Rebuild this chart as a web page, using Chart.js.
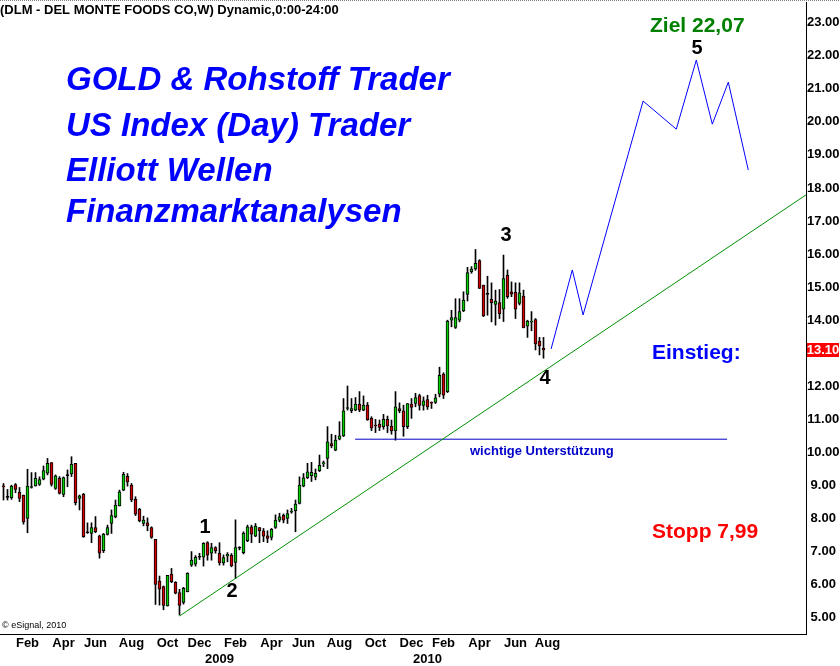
<!DOCTYPE html>
<html><head><meta charset="utf-8">
<script src="https://cdn.jsdelivr.net/npm/chart.js@4"></script>
<style>html,body{margin:0;padding:0;background:#fff}#c{display:block}</style>
</head><body>
<canvas id="c" width="840" height="666"></canvas>
<script>
// Weekly candles, DLM Dec 2007 - Aug 2010 (week index 1..136)
const opens  = [8.98,8.64,8.63,9.03,8.79,8.71,8.00,8.94,8.99,9.03,9.19,9.37,9.69,8.91,9.22,8.73,9.30,9.35,9.67,8.61,
                8.73,7.57,7.55,7.73,7.48,7.03,7.52,7.85,8.05,8.38,8.86,9.28,9.01,8.58,8.28,7.85,7.87,7.73,7.37,6.11,
                5.94,5.36,6.32,6.07,5.76,5.46,5.79,6.59,6.62,6.83,6.83,7.27,6.95,7.12,6.95,6.66,6.87,6.89,6.67,7.10,
                6.97,7.33,7.75,7.47,7.73,7.63,7.48,7.43,7.73,7.95,8.10,8.00,8.19,8.24,8.46,8.98,9.24,9.30,9.25,9.45,
                9.65,9.82,10.27,10.07,10.40,10.50,11.33,11.26,11.28,11.46,11.28,11.43,11.03,10.82,10.86,10.78,11.00,10.80,10.65,11.33,
                11.26,10.78,11.46,11.48,11.72,11.42,11.60,11.51,11.51,11.76,12.37,11.84,14.00,13.78,14.00,14.28,14.78,15.47,15.55,15.80,
                15.06,14.78,14.63,14.48,14.53,14.33,15.36,14.86,14.84,14.51,14.73,13.82,13.94,14.02,13.37,13.15];
const highs  = [9.06,8.88,9.01,9.06,8.94,8.71,9.49,9.39,9.39,9.26,9.59,9.82,9.69,9.32,9.27,9.26,9.47,9.87,9.67,8.71,
                8.76,7.87,7.87,8.06,7.50,7.55,7.80,8.26,8.56,8.86,9.40,9.36,9.06,8.66,8.31,8.07,8.02,7.75,7.37,6.26,
                5.96,6.28,6.49,6.09,5.86,5.92,6.36,7.00,6.88,6.95,7.27,7.30,7.25,7.15,7.27,6.90,6.97,6.94,7.96,7.15,
                7.60,7.80,7.80,7.85,7.73,7.70,7.63,7.70,8.11,8.16,8.14,8.26,8.31,8.56,9.26,9.36,9.67,9.70,9.50,9.92,
                9.74,10.78,10.55,10.52,10.93,11.63,12.01,11.63,11.66,11.84,11.71,11.51,11.08,11.00,10.98,11.15,11.10,10.98,11.84,11.50,
                11.43,11.48,11.63,11.79,11.76,11.68,11.73,11.53,11.76,12.58,12.41,14.00,14.30,14.65,14.65,14.86,15.60,15.62,16.14,15.83,
                15.06,15.33,15.13,14.91,14.93,15.97,15.52,15.16,15.13,15.13,14.91,14.00,14.26,14.05,13.48,13.48];
const lows   = [8.56,8.56,8.58,8.78,8.51,7.83,7.57,8.92,8.98,9.00,9.17,9.32,8.98,8.88,8.74,8.66,8.96,9.27,8.41,8.26,
                7.43,7.55,7.27,7.57,6.80,6.97,7.50,7.55,8.02,8.38,8.84,8.98,8.51,8.09,7.90,7.78,7.63,7.40,5.40,5.38,
                5.24,5.35,6.06,5.72,5.08,5.41,5.78,6.55,6.56,6.76,6.56,6.74,6.74,6.95,6.59,6.59,6.69,6.54,6.19,7.05,
                6.93,7.30,7.27,7.45,7.27,7.30,7.27,7.35,7.70,7.90,7.87,7.85,8.16,7.60,8.44,8.96,9.21,9.12,9.17,9.42,
                9.57,9.51,10.14,10.05,10.38,10.48,11.28,11.20,11.26,11.23,11.26,10.97,10.66,10.60,10.66,10.70,10.60,10.55,10.37,11.20,
                10.49,10.72,11.03,11.38,11.28,11.28,11.30,11.33,11.48,11.68,11.63,11.81,13.80,13.75,13.95,14.26,14.58,15.42,15.51,14.96,
                14.11,14.15,13.95,13.85,14.05,13.96,14.66,14.71,14.05,14.46,13.77,13.48,13.68,13.10,12.95,12.85];
const closes = [8.96,8.64,8.98,8.88,8.61,7.90,8.98,8.96,9.22,9.18,9.45,9.67,9.03,9.29,8.76,9.24,9.30,9.64,8.48,8.69,
                7.45,7.57,7.73,7.60,6.95,7.52,7.73,8.09,8.41,8.81,9.34,9.11,8.56,8.13,7.93,7.95,7.78,7.43,6.01,5.86,
                5.37,6.28,6.09,5.74,5.37,5.89,6.34,6.74,6.83,6.83,7.25,6.89,7.12,7.02,6.66,6.82,6.92,6.57,7.12,7.10,
                7.55,7.75,7.53,7.77,7.63,7.47,7.40,7.67,7.95,8.05,7.95,8.15,8.21,8.44,9.01,9.23,9.41,9.40,9.37,9.61,
                9.69,10.32,10.20,10.37,10.50,11.26,11.35,11.33,11.46,11.28,11.43,10.99,10.73,10.80,10.76,11.00,10.80,10.65,11.38,11.26,
                10.78,11.48,11.36,11.66,11.42,11.56,11.38,11.49,11.65,12.33,11.73,13.97,14.08,14.08,14.26,14.61,15.44,15.55,15.72,14.96,
                14.13,14.78,14.53,14.58,14.20,15.26,14.71,14.79,14.33,14.83,13.77,13.97,13.96,13.28,13.22,13.10];
const weeks = opens.map((_, i) => i + 1);

// Axis ticks
const xTickWeeks  = [7, 16, 24, 33, 42, 50, 55, 59, 68, 76, 85, 94, 103, 107, 111, 120, 129, 137];
const xTickLabels = ['Feb','Apr','Jun','Aug','Oct','Dec',['','2009'],'Feb','Apr','Jun','Aug','Oct','Dec',['','2010'],'Feb','Apr','Jun','Aug'];
const yTickValues = [5,6,7,8,9,10,11,12,14,15,16,17,18,19,20,21,22,23];
const lastPrice = 13.10;

// Drawn analysis lines
const trendWeeks = [45, 201.625];
const trendPrices = [5.05, 17.79];
const supportWeeks = [88.9, 181.9];
const supportPrices = [10.40, 10.40];
const projWeeks  = [137.9, 143.2, 145.9, 160.9, 169.2, 174.2, 178.2, 182.2, 187.2];
const projPrices = [13.13, 15.52, 14.16, 20.63, 19.78, 21.87, 19.93, 21.20, 18.54];

const FONT = '"Liberation Sans", Arial, sans-serif';

const decor = {
  id: 'decor',
  afterDraw(chart) {
    const ctx = chart.ctx;
    const y = chart.scales.y;
    ctx.save();
    // top dotted line
    ctx.strokeStyle = '#808080';
    ctx.lineWidth = 1;
    ctx.setLineDash([1, 1]);
    ctx.beginPath(); ctx.moveTo(0, 0.5); ctx.lineTo(840, 0.5); ctx.stroke();
    ctx.setLineDash([]);

    ctx.textBaseline = 'middle';
    ctx.textAlign = 'left';
    ctx.fillStyle = '#000';
    ctx.font = 'bold 13px ' + FONT;
    ctx.fillText('(DLM - DEL MONTE FOODS CO,W) Dynamic,0:00-24:00', 0, 10);

    ctx.font = '9px ' + FONT;
    ctx.fillText('\u00A9 eSignal, 2010', 2, 626);

    // headings
    ctx.fillStyle = '#0000ff';
    ctx.textBaseline = 'alphabetic';
    ctx.font = 'italic bold 33px ' + FONT;
    ctx.fillText('GOLD & Rohstoff Trader', 66, 90);
    ctx.fillText('US Index (Day) Trader', 66, 136);
    ctx.fillText('Elliott Wellen', 66, 181);
    ctx.fillText('Finanzmarktanalysen', 66, 222);

    ctx.textBaseline = 'middle';
    ctx.font = 'bold 21px ' + FONT;
    ctx.fillStyle = '#008000';
    ctx.fillText('Ziel 22,07', 650, 26);
    ctx.fillStyle = '#0000ff';
    ctx.fillText('Einstieg:', 652, 353);
    ctx.fillStyle = '#ff0000';
    ctx.fillText('Stopp 7,99', 652, 532);

    ctx.fillStyle = '#0000cc';
    ctx.font = 'bold 13px ' + FONT;
    ctx.fillText('wichtige Unterst\u00FCtzung', 470, 451);

    // wave counts
    ctx.fillStyle = '#000';
    ctx.font = 'bold 20px ' + FONT;
    ctx.textAlign = 'center';
    ctx.fillText('1', 205, 527);
    ctx.fillText('2', 232, 591);
    ctx.fillText('3', 506, 235);
    ctx.fillText('4', 545, 378);
    ctx.fillText('5', 697, 48);

    // last price tag
    const py = y.getPixelForValue(lastPrice);
    ctx.fillStyle = '#ff0000';
    ctx.fillRect(807, Math.round(py) - 7, 32, 14);
    ctx.fillStyle = '#ffffff';
    ctx.font = 'bold 13px ' + FONT;
    ctx.fillText(lastPrice.toFixed(2), 823, Math.round(py));
    ctx.restore();
  }
};

new Chart(document.getElementById('c'), {
  type: 'bar',
  data: {
    datasets: [
      {
        label: 'wicks',
        data: weeks.map((w, i) => ({ x: w, y: [lows[i], highs[i]] })),
        backgroundColor: '#000000',
        barThickness: 1,
        grouped: false,
        minBarLength: 1,
        order: 3
      },
      {
        label: 'bodies',
        data: weeks.map((w, i) => ({ x: w, y: [opens[i], closes[i]] })),
        backgroundColor: (c) => {
          const i = c.dataIndex;
          return closes[i] > opens[i] ? '#00d000' : (closes[i] < opens[i] ? '#d40000' : '#000000');
        },
        borderColor: '#000000',
        borderWidth: 1,
        borderSkipped: false,
        barThickness: 3,
        minBarLength: 1,
        grouped: false,
        order: 2
      },
      {
        type: 'line',
        label: 'trend',
        data: trendWeeks.map((w, i) => ({ x: w, y: trendPrices[i] })),
        borderColor: '#009000',
        borderWidth: 1,
        pointRadius: 0,
        order: 1
      },
      {
        type: 'line',
        label: 'support',
        data: supportWeeks.map((w, i) => ({ x: w, y: supportPrices[i] })),
        borderColor: '#0000c0',
        borderWidth: 1,
        pointRadius: 0,
        order: 1
      },
      {
        type: 'line',
        label: 'projection',
        data: projWeeks.map((w, i) => ({ x: w, y: projPrices[i] })),
        borderColor: '#0000ff',
        borderWidth: 1,
        pointRadius: 0,
        order: 1
      }
    ]
  },
  options: {
    responsive: false,
    animation: false,
    devicePixelRatio: 1,
    layout: { padding: { top: 2, left: 0, right: 0, bottom: 0 } },
    plugins: { legend: { display: false }, tooltip: { enabled: false } },
    scales: {
      x: {
        type: 'linear',
        position: 'bottom',
        min: 0.125,
        max: 201.625,
        offset: false,
        grid: { display: false, drawTicks: false },
        border: { display: true, color: '#000', width: 1 },
        ticks: {
          autoSkip: false, maxRotation: 0, minRotation: 0, padding: 2,
          color: '#000',
          font: { family: FONT, size: 13, weight: 'bold', lineHeight: 1.2 },
          callback: (v, i) => xTickLabels[i]
        },
        afterBuildTicks: (s) => { s.ticks = xTickWeeks.map(v => ({ value: v })); },
        afterFit: (s) => { s.height = 32; s.paddingLeft = 0; s.paddingRight = 0; }
      },
      y: {
        type: 'linear',
        position: 'right',
        min: 4.507,
        max: 23.626,
        grid: { display: false, drawTicks: false },
        border: { display: true, color: '#000', width: 1 },
        ticks: {
          padding: 1, crossAlign: 'center', color: '#000',
          font: { family: FONT, size: 13, weight: 'bold' },
          callback: (v) => Number(v).toFixed(2)
        },
        afterBuildTicks: (s) => { s.ticks = yTickValues.map(v => ({ value: v })); },
        afterFit: (s) => { s.width = 34; s.paddingTop = 0; s.paddingBottom = 0; }
      }
    }
  },
  plugins: [decor]
});
</script>
</body></html>
